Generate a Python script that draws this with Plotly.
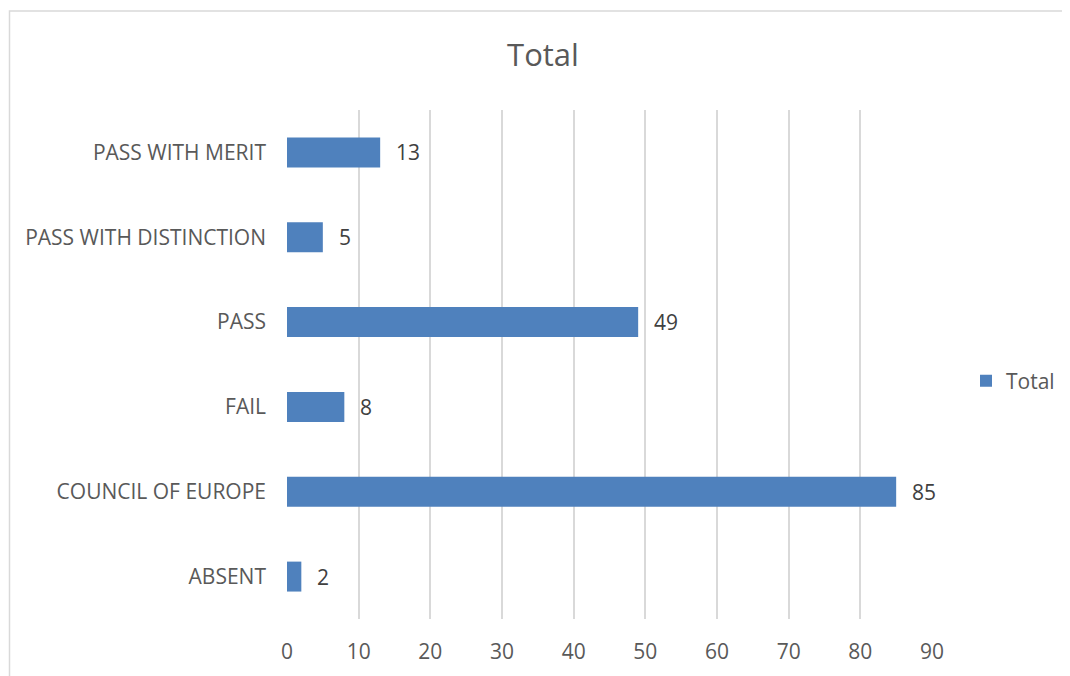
import plotly.graph_objects as go

categories = ["ABSENT", "COUNCIL OF EUROPE", "FAIL", "PASS", "PASS WITH DISTINCTION", "PASS WITH MERIT"]
values = [2, 85, 8, 49, 5, 13]
series_name = "Total"
x_ticks = [0, 10, 20, 30, 40, 50, 60, 70, 80, 90]

# page body has an 8px margin; work in screen coords and shift
O = 8
W, H = 1070, 676
L, T = 287 - O, 110 - O
R = W - (932 - O)
B = H - (619 - O)
pw, ph = W - L - R, H - T - B

def px(x):
    return (x - O - L) / pw

def py(y):
    return (H - B - (y - O)) / ph

txt = "#595959"
font = "Open Sans"
fs = 21

fig = go.Figure()
fig.add_trace(go.Bar(
    y=categories, x=values, orientation="h", name=series_name,
    marker=dict(color="#4F81BD", line=dict(width=0)),
    width=0.353,
))

for c, v in zip(categories, values):
    fig.add_annotation(x=v, y=c, text=str(v), showarrow=False, xanchor="left",
                       xshift=14, font=dict(family=font, size=fs, color="#404040"))

fig.add_shape(type="rect", xref="paper", yref="paper",
              x0=px(9.5), x1=px(1090), y0=py(700), y1=py(11),
              line=dict(color="#D9D9D9", width=1.5), fillcolor="rgba(0,0,0,0)", layer="below")

fig.update_layout(
    width=W, height=H,
    margin=dict(l=L, r=R, t=T, b=B),
    paper_bgcolor="white", plot_bgcolor="white",
    title=dict(text="Total", x=(543 - O) / W, xanchor="center", xref="container",
               y=1 - (55 - O) / H, yanchor="middle",
               font=dict(family=font, size=31, color=txt)),
    font=dict(family=font, size=fs, color=txt),
    showlegend=True,
    legend=dict(x=px(966), y=py(381), xanchor="left", yanchor="middle",
                font=dict(family=font, size=fs, color=txt), bgcolor="rgba(0,0,0,0)"),
    xaxis=dict(range=[0, 90], tickvals=x_ticks, showgrid=True, gridcolor="#D9D9D9", gridwidth=1.5,
               zeroline=False, showline=False, ticks="", tickfont=dict(size=fs, color=txt),
               ticklabelstandoff=18, fixedrange=True),
    yaxis=dict(categoryorder="array", categoryarray=categories, showgrid=False, zeroline=False,
               showline=False, ticks="", tickfont=dict(size=fs, color=txt),
               ticklabelstandoff=20, fixedrange=True),
    bargap=0.647,
)

fig.write_html("out.html")
